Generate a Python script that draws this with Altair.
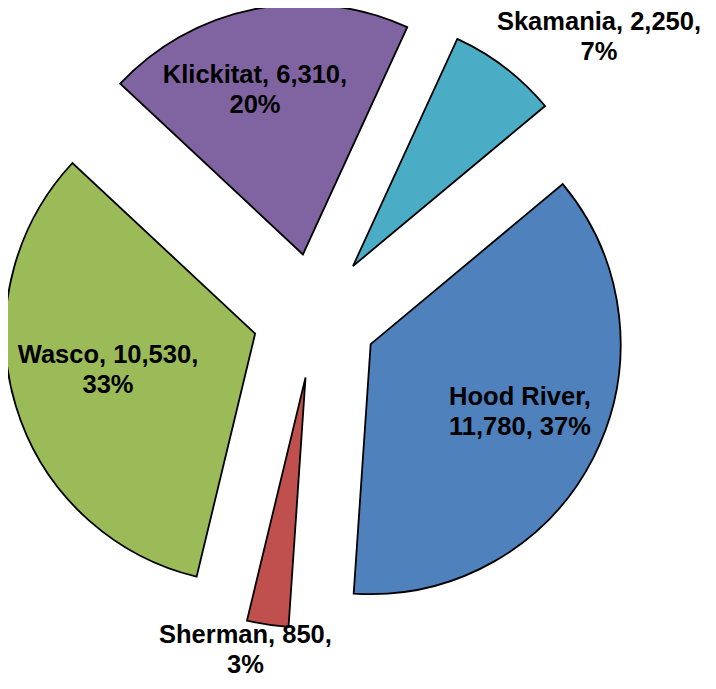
import math
import altair as alt
import pandas as pd

# ---- data ----
counties = ["Hood River", "Sherman", "Wasco", "Klickitat", "Skamania"]
values = [11780, 850, 10530, 6310, 2250]
colors = ["#4F81BD", "#C0504D", "#9BBB59", "#8064A2", "#4BACC6"]

# ---- style ----
START_DEG = 50.2        # angle where first slice begins (clockwise from 12 o'clock)
CX, CY = 307.0, 307.7   # pie centre in chart pixels
EXPLODE = 62.5          # explosion distance
RADIUS = 250
LINE_H = 30
# label placement (radius from pie centre, angle in degrees)
label_pos = {
    "Hood River": (226.5, 115.2),
    "Sherman": (341.5, 191.76),
    "Wasco": (214.0, 255.3),
    "Klickitat": (233.5, 345.1),
    "Skamania": (397.9, 45.54),
}
label_text = {
    "Hood River": "{n},\n{v}, {p}",
    "Sherman": "{n}, {v},\n{p}",
    "Wasco": "{n}, {v},\n{p}",
    "Klickitat": "{n}, {v},\n{p}",
    "Skamania": "{n}, {v},\n{p}",
}

total = sum(values)
rows = []
acc = math.radians(START_DEG)
for name, v, c in zip(counties, values, colors):
    span = 2 * math.pi * v / total
    t0, t1 = acc, acc + span
    mid = (t0 + t1) / 2
    lr, la = label_pos[name]
    la = math.radians(la)
    pct = f"{round(100 * v / total)}%"
    rows.append({
        "county": name,
        "value": v,
        "t0": t0,
        "t1": t1,
        "cx": CX + EXPLODE * math.sin(mid),
        "cy": CY - EXPLODE * math.cos(mid),
        "lx": CX + lr * math.sin(la),
        "ly": CY - lr * math.cos(la),
        "label": label_text[name].format(n=name, v=f"{v:,}", p=pct),
    })
    acc = t1
df = pd.DataFrame(rows)

base = alt.Chart(df)

arcs = base.mark_arc(outerRadius=RADIUS, stroke="black", strokeWidth=1.8, strokeJoin="miter").encode(
    theta=alt.Theta("t0:Q", scale=None),
    theta2="t1:Q",
    x=alt.X("cx:Q", scale=None),
    y=alt.Y("cy:Q", scale=None),
    color=alt.Color("county:N", scale=alt.Scale(domain=counties, range=colors), legend=None),
)

labels = base.mark_text(
    font="Liberation Sans", fontWeight="bold", fontSize=25.5, lineHeight=LINE_H,
    align="center", baseline="middle", lineBreak="\n", color="black", dy=-LINE_H / 2,
).encode(
    x=alt.X("lx:Q", scale=None),
    y=alt.Y("ly:Q", scale=None),
    text="label:N",
)

chart = alt.layer(arcs, labels).properties(
    width=700, height=673, autosize="none", padding=0
).configure_view(stroke=None)

chart.save("out.html", embed_options={"renderer": "svg", "actions": False})
